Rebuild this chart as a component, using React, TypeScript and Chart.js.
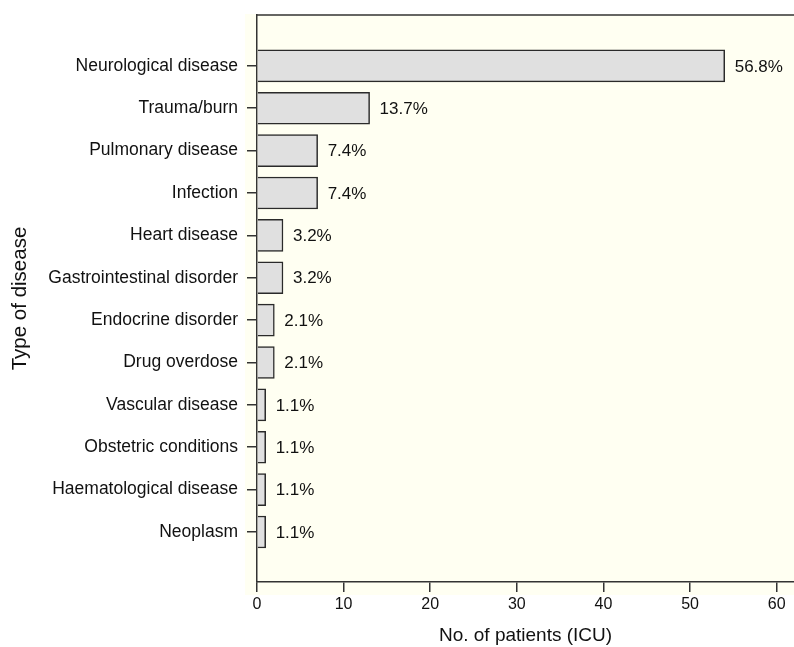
import React, { useEffect, useRef } from "react";
import { Chart, registerables } from "chart.js";

Chart.register(...registerables);

const categories = [
  "Neurological disease",
  "Trauma/burn",
  "Pulmonary disease",
  "Infection",
  "Heart disease",
  "Gastrointestinal disorder",
  "Endocrine disorder",
  "Drug overdose",
  "Vascular disease",
  "Obstetric conditions",
  "Haematological disease",
  "Neoplasm",
];
const patients = [54, 13, 7, 7, 3, 3, 2, 2, 1, 1, 1, 1];
const pctLabels = ["56.8%", "13.7%", "7.4%", "7.4%", "3.2%", "3.2%", "2.1%", "2.1%", "1.1%", "1.1%", "1.1%", "1.1%"];
const xTicks = [0, 10, 20, 30, 40, 50, 60];

const FONT = "'Liberation Sans', Arial, Helvetica, sans-serif";
const AXIS = "#333333";

const bgPlugin = {
  id: "bgFrame",
  beforeDraw(chart: any) {
    const { ctx, chartArea } = chart;
    ctx.save();
    ctx.fillStyle = "#fffff2";
    ctx.fillRect(chartArea.left - 12, chartArea.top - 1, chartArea.right - chartArea.left + 12, chartArea.bottom - chartArea.top + 14);
    ctx.restore();
  },
  afterDraw(chart: any) {
    const { ctx, chartArea } = chart;
    ctx.save();
    ctx.strokeStyle = AXIS;
    ctx.lineWidth = 1.5;
    ctx.beginPath();
    ctx.moveTo(chartArea.left, chartArea.top);
    ctx.lineTo(chartArea.right, chartArea.top);
    ctx.stroke();
    ctx.restore();
  },
};

const labelPlugin = {
  id: "pctLabels",
  afterDatasetsDraw(chart: any) {
    const { ctx } = chart;
    const meta = chart.getDatasetMeta(0);
    ctx.save();
    ctx.fillStyle = "#111111";
    ctx.font = `17px ${FONT}`;
    ctx.textAlign = "left";
    ctx.textBaseline = "middle";
    meta.data.forEach((el: any, i: number) => {
      ctx.fillText(pctLabels[i], el.x + 10, el.y + 1);
    });
    ctx.restore();
  },
};

export default function App() {
  const ref = useRef<HTMLCanvasElement>(null);
  useEffect(() => {
    document.body.style.margin = "0";
    const chart = new Chart(ref.current!, {
      type: "bar",
      data: {
        datasets: [
          {
            data: patients.map((v, i) => ({ x: v, y: i })) as any,
            backgroundColor: "#e0e0e0",
            borderColor: "#2a2a2a",
            borderWidth: 1.5,
            barThickness: 32,
          },
        ],
      },
      options: {
        indexAxis: "y",
        animation: false,
        responsive: false,
        maintainAspectRatio: false,
        layout: { padding: { top: 15, right: 0, left: 0, bottom: 0 } },
        plugins: { legend: { display: false }, tooltip: { enabled: false } },
        scales: {
          x: {
            type: "linear",
            min: 0,
            max: 62,
            offset: false,
            ticks: {
              stepSize: 10,
              includeBounds: false,
              color: "#111111",
              font: { family: FONT, size: 16 },
              padding: 3,
            },
            afterBuildTicks: (scale: any) => {
              scale.ticks = xTicks.map((v) => ({ value: v }));
            },
            grid: { display: true, offset: false, drawOnChartArea: false, drawTicks: true, tickLength: 10, color: AXIS, lineWidth: 1.5 },
            border: { display: true, color: AXIS, width: 1.5 },
            title: {
              display: true,
              text: "No. of patients (ICU)",
              color: "#111111",
              font: { family: FONT, size: 19 },
              padding: { top: 6, bottom: 0 },
            },
            afterFit: (scale: any) => {
              scale.height = 65;
              scale.paddingLeft = 0;
              scale.paddingRight = 0;
            },
          },
          y: {
            type: "linear",
            reverse: true,
            offset: false,
            min: -1.2,
            max: 12.18,
            afterBuildTicks: (scale: any) => {
              scale.ticks = categories.map((_, i) => ({ value: i }));
            },
            ticks: {
              color: "#111111",
              font: { family: FONT, size: 17.5 },
              padding: 9,
              autoSkip: false,
              callback: (v: any) => categories[v as number] ?? "",
            },
            grid: { display: true, offset: false, drawOnChartArea: false, drawTicks: true, tickLength: 10, color: AXIS, lineWidth: 1.5 },
            border: { display: true, color: AXIS, width: 1.5 },
            title: {
              display: true,
              text: "Type of disease",
              color: "#111111",
              font: { family: FONT, size: 20.5 },
              padding: { top: 8, bottom: 0 },
            },
            afterFit: (scale: any) => {
              scale.width = 257;
              scale.paddingTop = 0;
              scale.paddingBottom = 0;
            },
          },
        },
      },
      plugins: [bgPlugin, labelPlugin],
    });
    return () => chart.destroy();
  }, []);
  return (
    <div style={{ width: 794, height: 647, background: "#ffffff" }}>
      <canvas ref={ref} width={794} height={647} style={{ display: "block" }} />
    </div>
  );
}
